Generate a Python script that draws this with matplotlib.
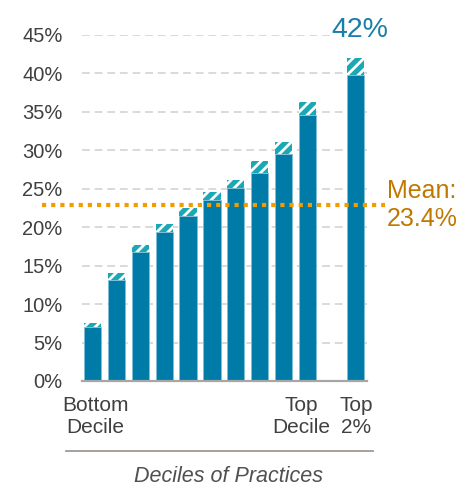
import matplotlib
matplotlib.use("Agg")
import matplotlib.pyplot as plt
from matplotlib.lines import Line2D
from matplotlib.transforms import ScaledTranslation

plt.rcParams['font.family'] = ['Liberation Sans', 'DejaVu Sans']
plt.rcParams['hatch.linewidth'] = 2.0

# Data (percent)
positions = [0, 1, 2, 3, 4, 5, 6, 7, 8, 9, 11]
base_values = [7.0, 13.2, 16.8, 19.4, 21.4, 23.5, 25.1, 27.1, 29.5, 34.6, 39.8]
cap_values = [0.5, 0.85, 0.9, 1.0, 1.1, 1.1, 1.1, 1.5, 1.6, 1.7, 2.2]
tick_positions = [0, 9, 11]
tick_labels = ["Bottom\nDecile", "Top\nDecile", "Top\n2%"]
y_ticks = [0, 5, 10, 15, 20, 25, 30, 35, 40, 45]
mean_line_value = 22.9
mean_label = "Mean:\n23.4%"
top_label = "42%"
x_title = "Deciles of Practices"

fig = plt.figure(figsize=(4.63, 4.88), dpi=100)
ax = fig.add_axes([82/463, 107/488, 285/463, 346/488])

ax.bar(positions, base_values, width=0.72, color="#007BA7",
       edgecolor="#7FBFD6", linewidth=0.6, zorder=3)
ax.bar(positions, cap_values, bottom=base_values, width=0.72, color="#1AA8B5",
       edgecolor="white", linewidth=0, hatch="///", zorder=3)

ax.set_xlim(-0.44, 11.49)
ax.set_ylim(0, 45)
ax.set_yticks(y_ticks)
ax.set_yticklabels([f"{v}%" for v in y_ticks])
ax.yaxis.grid(True, linestyle=(0, (4, 2.5)), color="#D9D9D9", linewidth=1.4, zorder=0)
ax.set_axisbelow(True)
for s in ["top", "right", "left"]:
    ax.spines[s].set_visible(False)
ax.spines["bottom"].set_color("#A6A6A6")
ax.spines["bottom"].set_linewidth(1.6)
ax.spines["bottom"].set_zorder(4)

ax.tick_params(axis="y", length=0, pad=14, labelsize=14.5, labelcolor="#404040")
ax.set_xticks(tick_positions)
ax.set_xticklabels(tick_labels, fontsize=15, color="#404040", linespacing=1.2)
ax.tick_params(axis="x", length=0, pad=11)
shifts_px = [3, -6, 1]
for lbl, dx in zip(ax.get_xticklabels(), shifts_px):
    lbl.set_transform(lbl.get_transform() + ScaledTranslation(dx / 100, 0, fig.dpi_scale_trans))

# Mean line extending beyond axes
ax.plot([-2.11, 12.24], [mean_line_value, mean_line_value], linestyle=(0, (1, 1.2)),
        color="#F39C00", linewidth=3, clip_on=False, zorder=5)
ax.text(13.8, mean_line_value, mean_label, ha="center", va="center", fontsize=18,
        color="#C07800", linespacing=1.25, clip_on=False)

ax.text(11.2, 44.0, top_label, ha="center", va="bottom", fontsize=20.5,
        color="#1A7FA8", clip_on=False, zorder=6,
        bbox=dict(facecolor="white", edgecolor="none", pad=1))

# Separator line and x title
fig.add_artist(Line2D([66/463, 373/463], [1 - 451/488, 1 - 451/488],
                      color="#A09A95", linewidth=1.3))
fig.text(228/463, 1 - 477/488, x_title, ha="center", va="center", fontsize=15.5,
         style="italic", color="#505050")

fig.savefig("out.png", dpi=100)
